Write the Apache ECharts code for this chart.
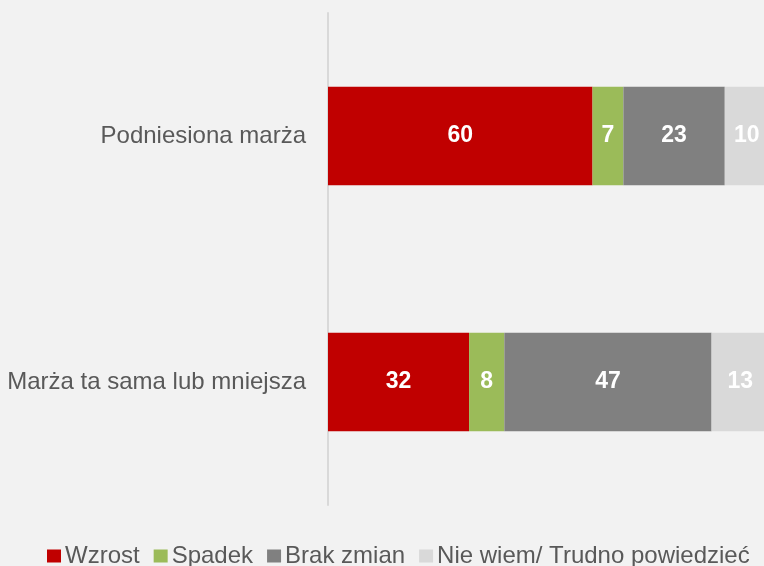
<!DOCTYPE html>
<html><head><meta charset="utf-8">
<script src="https://cdn.jsdelivr.net/npm/echarts@6/dist/echarts.min.js"></script>
<style>html,body{margin:0;padding:0;background:#F2F2F2}#c{width:764px;height:566px}</style>
</head><body><div id="c"></div>
<script>
const categories = ['Podniesiona marża', 'Marża ta sama lub mniejsza'];
const seriesNames = ['Wzrost', 'Spadek', 'Brak zmian', 'Nie wiem/ Trudno powiedzieć'];
const wzrost = [60, 32];
const spadek = [7, 8];
const brakZmian = [23, 47];
const nieWiem = [10, 13];
const colors = ['#C00000', '#9BBB59', '#808080', '#D9D9D9'];
const values = [wzrost, spadek, brakZmian, nieWiem];

const chart = echarts.init(document.getElementById('c'));
chart.setOption({
  backgroundColor: '#F2F2F2',
  animation: false,
  textStyle: { fontFamily: 'Liberation Sans, Arial, sans-serif' },
  grid: { left: 328, top: 13, right: 0, height: 492 },
  xAxis: { type: 'value', min: 0, max: 98.9, show: false },
  yAxis: {
    type: 'category', data: categories, inverse: true,
    axisLine: { show: true, lineStyle: { color: '#D9D9D9', width: 2 } },
    axisTick: { show: false },
    axisLabel: { color: '#595959', fontSize: 24, margin: 22 }
  },
  legend: {
    left: 42, top: 539, itemWidth: 14, itemHeight: 13, itemGap: 14,
    icon: 'rect',
    textStyle: { color: '#595959', fontSize: 24, padding: [0, 0, 0, -1] },
    data: seriesNames
  },
  series: seriesNames.map((n, i) => ({
    name: n, type: 'bar', stack: 'total', barWidth: '40%', clip: false,
    data: values[i],
    itemStyle: { color: colors[i] },
    label: { show: true, position: 'inside', color: '#FFFFFF', fontSize: 23, fontWeight: 'bold' }
  }))
});
</script></body></html>
